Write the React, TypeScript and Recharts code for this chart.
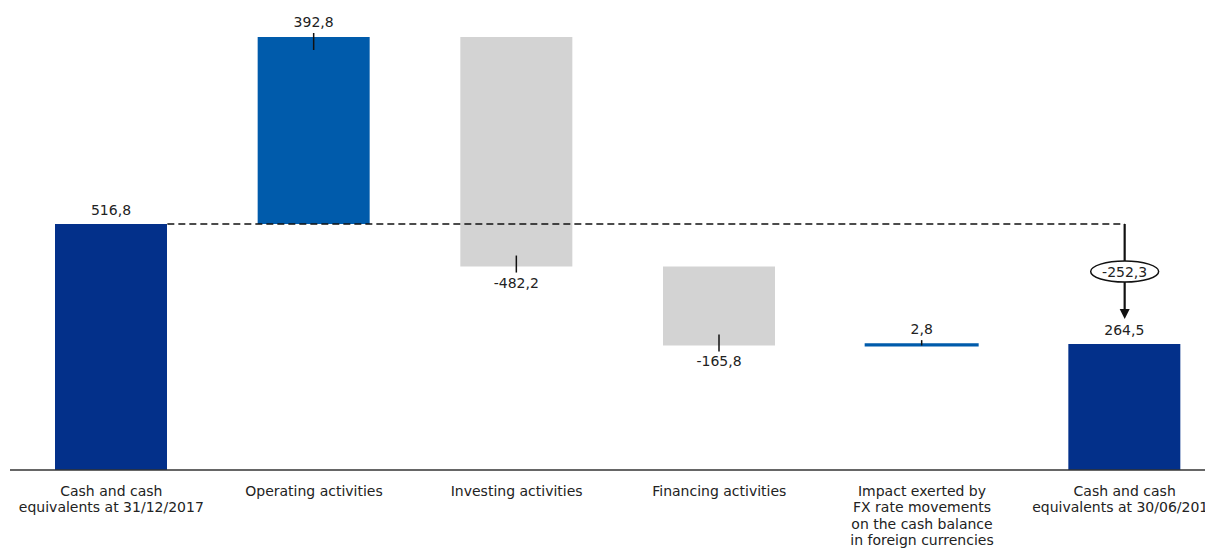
import { BarChart, Bar, XAxis, YAxis, Cell, LabelList, ReferenceLine } from 'recharts'

const CATEGORIES = [
  'Cash and cash\nequivalents at 31/12/2017',
  'Operating activities',
  'Investing activities',
  'Financing activities',
  'Impact exerted by\nFX rate movements\non the cash balance\nin foreign currencies',
  'Cash and cash\nequivalents at 30/06/2018',
]
const CHANGES = [516.8, 392.8, -482.2, -165.8, 2.8, 264.5]
const KINDS = ['total', 'delta', 'delta', 'delta', 'delta', 'total']
const COLORS = ['#03308a', '#005bab', '#d3d3d3', '#d3d3d3', '#005bab', '#03308a']

const OPENING = CHANGES[0]
const CLOSING = CHANGES[CHANGES.length - 1]

const FONT = '"DejaVu Sans", sans-serif'
const TEXT = '#222'
const BAR_SIZE = 112

const fmt = (v: number) => v.toFixed(1).replace('.', ',')

// build base / height rows for a floating-bar waterfall
let running = 0
const data = CATEGORIES.map((name, i) => {
  const change = CHANGES[i]
  let base = 0
  let size = change
  if (KINDS[i] === 'total') {
    running = change
  } else {
    base = change >= 0 ? running : running + change
    size = Math.abs(change)
    running += change
  }
  return { name, base, size, change }
})

function ValueLabel(props: any) {
  const { x, y, width, height, index } = props
  const change = CHANGES[index]
  const cx = x + width / 2
  const txt = { fontFamily: FONT, fontSize: 14, fill: TEXT, textAnchor: 'middle' as const, dominantBaseline: 'central' as const }
  if (KINDS[index] === 'total') {
    return <text x={cx} y={y - 14} {...txt}>{fmt(change)}</text>
  }
  if (change >= 0) {
    const inner = Math.min(13, height)
    return (
      <g>
        <line x1={cx} x2={cx} y1={y - 4} y2={y + inner} stroke="#111" strokeWidth={1.5} />
        <text x={cx} y={y - 15} {...txt}>{fmt(change)}</text>
      </g>
    )
  }
  const bottom = y + height
  return (
    <g>
      <line x1={cx} x2={cx} y1={bottom - 11} y2={bottom + 6} stroke="#111" strokeWidth={1.5} />
      <text x={cx} y={bottom + 16} {...txt}>{fmt(change)}</text>
    </g>
  )
}

function CategoryTick(props: any) {
  const { x, y, payload } = props
  const lines = String(payload.value).split('\n')
  return (
    <text x={x} y={y + 26} textAnchor="middle" fontFamily={FONT} fontSize={14} fill={TEXT}>
      {lines.map((l, i) => (
        <tspan key={i} x={x} dy={i === 0 ? 0 : 16.3}>{l}</tspan>
      ))}
    </text>
  )
}

// dashed connector at the opening level, starting at the first bar's right edge
function DashedLevel(props: any) {
  const { x1, y1, x2 } = props
  return <line x1={x1 + BAR_SIZE / 2} x2={x2} y1={y1} y2={y1} stroke="#111" strokeWidth={1.6} strokeDasharray="7 4" />
}

function ChangeArrow(props: any) {
  const { x1, y1, y2 } = props
  const tip = y2 - 25
  const mid = (y1 + tip) / 2
  return (
    <g>
      <line x1={x1} x2={x1} y1={y1} y2={tip - 8} stroke="#111" strokeWidth={2.2} />
      <polygon points={`${x1 - 5},${tip - 10} ${x1 + 5},${tip - 10} ${x1},${tip}`} fill="#111" />
      <ellipse cx={x1} cy={mid} rx={34} ry={10.5} fill="#fff" stroke="#111" strokeWidth={1.5} />
      <text x={x1} y={mid} textAnchor="middle" dominantBaseline="central" fontFamily={FONT} fontSize={14} fill={TEXT}>
        {fmt(CLOSING - OPENING)}
      </text>
    </g>
  )
}

export default function App() {
  return (
    <div style={{ width: 1205, height: 547, overflow: 'hidden' }}>
      <BarChart width={1218} height={547} data={data} margin={{ top: 5, right: 0, left: 2, bottom: 5 }} barSize={BAR_SIZE}>
        <XAxis
          dataKey="name"
          height={80}
          tickLine={false}
          tickSize={0}
          tickMargin={0}
          interval={0}
          axisLine={{ stroke: '#333', strokeWidth: 1.5 }}
          tick={<CategoryTick />}
        />
        <YAxis hide domain={[0, 960]} />
        <Bar dataKey="base" stackId="w" fill="transparent" isAnimationActive={false} />
        <Bar dataKey="size" stackId="w" isAnimationActive={false}>
          {data.map((d, i) => (
            <Cell key={d.name} fill={COLORS[i]} stroke={i === 4 ? COLORS[i] : 'none'} strokeWidth={i === 4 ? 2 : 0} />
          ))}
          <LabelList dataKey="size" content={<ValueLabel />} />
        </Bar>
        <ReferenceLine
          segment={[{ x: CATEGORIES[0], y: OPENING }, { x: CATEGORIES[5], y: OPENING }]}
          shape={DashedLevel}
        />
        <ReferenceLine
          segment={[{ x: CATEGORIES[5], y: OPENING }, { x: CATEGORIES[5], y: CLOSING }]}
          shape={ChangeArrow}
        />
      </BarChart>
    </div>
  )
}
